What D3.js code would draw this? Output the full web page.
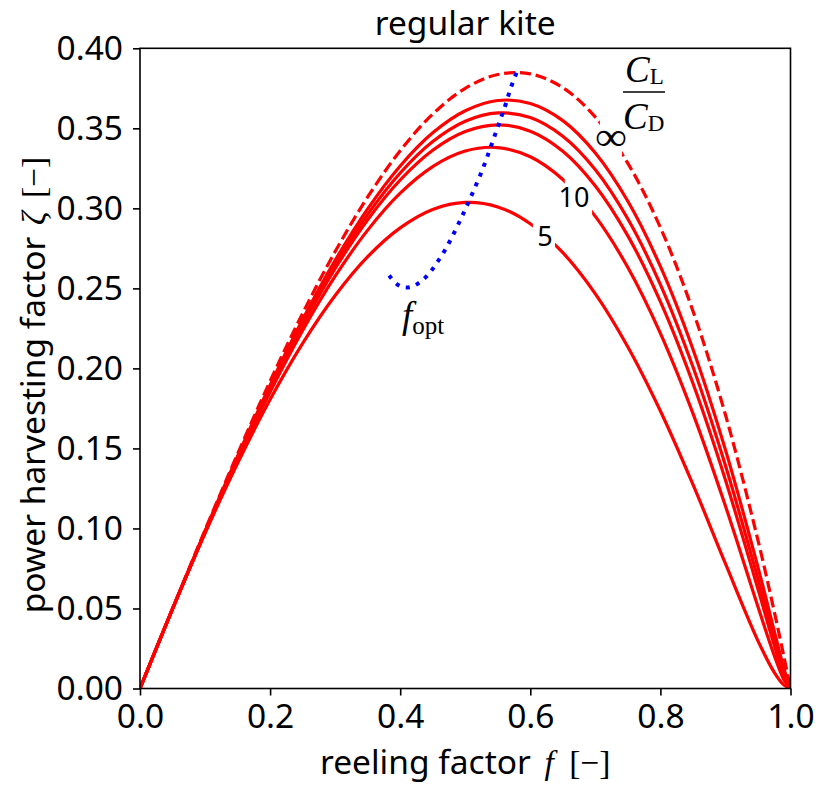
<!DOCTYPE html>
<html><head><meta charset="utf-8">
<script src="https://cdn.jsdelivr.net/npm/d3@7"></script>
<style>body{margin:0;background:#fff}</style>
</head><body><svg id="c" width="816" height="787"></svg>
<script>
// ---- data ----
const fGrid   = [0,0.05,0.1,0.15,0.2,0.25,0.3,0.35,0.4,0.45,0.5,0.55,0.6,0.65,0.7,0.75,0.8,0.85,0.9,0.95,0.975,0.99,1.0];
const zeta5   = [0,0.0499,0.0970,0.1407,0.1805,0.2156,0.2455,0.2698,0.2878,0.2993,0.3037,0.3009,0.2904,0.2723,0.2466,0.2134,0.1734,0.1275,0.0780,0.0298,0.0101,0.0021,0];
const zeta10  = [0,0.0496,0.0975,0.1430,0.1852,0.2237,0.2576,0.2864,0.3095,0.3261,0.3358,0.3380,0.3322,0.3180,0.2950,0.2630,0.2219,0.1719,0.1140,0.0511,0.0207,0.0054,0];
const zeta15  = [0,0.0497,0.0979,0.1440,0.1873,0.2269,0.2624,0.2929,0.3177,0.3363,0.3480,0.3522,0.3482,0.3357,0.3140,0.2828,0.2417,0.1907,0.1303,0.0621,0.0271,0.0080,0];
const zeta20  = [0,0.0497,0.0981,0.1446,0.1884,0.2287,0.2649,0.2962,0.3221,0.3417,0.3544,0.3596,0.3567,0.3450,0.3241,0.2933,0.2524,0.2010,0.1393,0.0685,0.0312,0.0099,0];
const zeta30  = [0,0.0497,0.0984,0.1452,0.1895,0.2305,0.2675,0.2997,0.3265,0.3472,0.3610,0.3674,0.3655,0.3548,0.3346,0.3044,0.2637,0.2120,0.1491,0.0757,0.0360,0.0124,0];
const zetaInf = [0,0.0499,0.0990,0.1466,0.1920,0.2344,0.2730,0.3071,0.3360,0.3589,0.3750,0.3836,0.3840,0.3754,0.3570,0.3281,0.2880,0.2359,0.1710,0.0926,0.0481,0.0197,0];

const fOpt    = [0.383,0.392,0.404,0.419,0.431,0.442,0.451,0.459,0.467,0.474,0.481,0.494,0.500,0.506,0.512,0.5175,0.5236,0.5287,0.5338,0.5384,0.5436,0.5482,0.5533,0.5579,0.5630,0.5676,0.5728,0.5794];
const zetaOpt = [0.258,0.2533,0.2501,0.2507,0.2539,0.2580,0.2626,0.2676,0.2724,0.2777,0.2830,0.2941,0.2993,0.3047,0.3103,0.3155,0.3211,0.3266,0.3320,0.3376,0.3434,0.3489,0.3545,0.3601,0.3658,0.3726,0.3786,0.3853];

const xTicks = [0,0.2,0.4,0.6,0.8,1.0];
const yTicks = [0,0.05,0.10,0.15,0.20,0.25,0.30,0.35,0.40];
const curveLabels = ["5","10"];

// ---- drawing ----
const svg = d3.select("#c");
svg.append("rect").attr("width",816).attr("height",787).attr("fill","#fff");
const x = d3.scaleLinear().domain([0,1]).range([140,790.5]);
const y = d3.scaleLinear().domain([0,0.4]).range([688.5,48.3]);
const SANS = "'Noto Sans','Open Sans',sans-serif";
const SERIF = "'Liberation Serif','DejaVu Serif',serif";
const FS = "33.5px";

const defs = svg.append("defs");
defs.append("clipPath").attr("id","plotclip").append("rect")
  .attr("x",x(0)).attr("y",y(0.4)).attr("width",x(1)-x(0)).attr("height",y(0)-y(0.4));

function gapMask(id, f0, f1){
  const m = defs.append("mask").attr("id",id).attr("maskUnits","userSpaceOnUse")
    .attr("x",0).attr("y",0).attr("width",816).attr("height",787);
  m.append("rect").attr("x",0).attr("y",0).attr("width",816).attr("height",787).attr("fill","#fff");
  m.append("rect").attr("x",x(f0)).attr("y",0).attr("width",x(f1)-x(f0)).attr("height",787).attr("fill","#000");
}
gapMask("gap5",0.604,0.638);
gapMask("gap10",0.653,0.695);
gapMask("gapInf",0.707,0.741);

const series = [
  {v:zeta5, mask:"gap5"},
  {v:zeta10, mask:"gap10"},
  {v:zeta15},
  {v:zeta20},
  {v:zeta30},
  {v:zetaInf, mask:"gapInf", dash:"11.1,4.8"}
];
const line = d3.line().x((d,i)=>x(fGrid[i])).y(d=>y(d)).curve(d3.curveCatmullRom.alpha(0.5));
const plot = svg.append("g").attr("clip-path","url(#plotclip)");
series.forEach(s=>{
  const p = plot.append("path").attr("d",line(s.v)).attr("fill","none")
    .attr("stroke","#ff0000").attr("stroke-width",3.2);
  if(s.mask) p.attr("mask",`url(#${s.mask})`);
  if(s.dash) p.attr("stroke-dasharray",s.dash);
});
const optLine = d3.line().x((d,i)=>x(fOpt[i])).y(d=>y(d)).curve(d3.curveBasis);
plot.append("path").attr("d",optLine(zetaOpt)).attr("fill","none")
  .attr("stroke","#0000ff").attr("stroke-width",4).attr("stroke-dasharray","4,6.6");

// axes
const xAxis = d3.axisBottom(x).tickValues(xTicks).tickFormat(d3.format(".1f"))
  .tickSizeInner(7).tickSizeOuter(0).tickPadding(9);
const yAxis = d3.axisLeft(y).tickValues(yTicks).tickFormat(d3.format(".2f"))
  .tickSizeInner(7).tickSizeOuter(0).tickPadding(10);
const gx = svg.append("g").attr("transform",`translate(0,${y(0)})`).call(xAxis);
const gy = svg.append("g").attr("transform",`translate(${x(0)},0)`).call(yAxis);
[gx,gy].forEach(g=>{
  g.select(".domain").remove();
  g.selectAll(".tick line").attr("stroke","#000").attr("stroke-width",1.6);
  g.selectAll(".tick text").attr("fill","#000").style("font-family",SANS).style("font-size",FS);
});

// frame
svg.append("rect").attr("x",x(0)).attr("y",y(0.4)).attr("width",x(1)-x(0)).attr("height",y(0)-y(0.4))
  .attr("fill","none").attr("stroke","#000").attr("stroke-width",1.6);

// title
svg.append("text").attr("x",(x(0)+x(1))/2).attr("y",35).attr("text-anchor","middle")
  .style("font-family",SANS).style("font-size",FS).text("regular kite");

// x label
const xl = svg.append("text").attr("x",(x(0)+x(1))/2).attr("y",774).attr("text-anchor","middle")
  .style("font-size",FS);
xl.append("tspan").style("font-family",SANS).text("reeling factor ");
xl.append("tspan").attr("dx",5).style("font-family",SERIF).style("font-style","italic").text("f");
xl.append("tspan").attr("dx",7).style("font-family",SERIF).text(" [\u2212]");

// y label
const yl = svg.append("text").attr("transform",`translate(45,385) rotate(-90)`)
  .attr("text-anchor","middle").style("font-size",FS);
yl.append("tspan").style("font-family",SANS).text("power harvesting factor ");
yl.append("tspan").attr("dx",3).style("font-family",SERIF).style("font-style","italic").text("\u03B6");
yl.append("tspan").attr("dx",5).style("font-family",SERIF).text(" [\u2212]");

// curve labels
svg.append("text").attr("x",x(0.6226)).attr("y",y(0.2828)).attr("text-anchor","middle")
  .attr("dominant-baseline","central").style("font-family",SANS).style("font-size","27px").text(curveLabels[0]);
svg.append("text").attr("x",x(0.6672)).attr("y",y(0.3072)).attr("text-anchor","middle")
  .attr("dominant-baseline","central").style("font-family",SANS).style("font-size","27px").text(curveLabels[1]);
svg.append("text").attr("x",x(0.724)-16).attr("y",y(0.3422)+9).attr("textLength",32).attr("lengthAdjust","spacingAndGlyphs")
  .style("font-family",SERIF).style("font-size","40px").text("\u221E");

// C_L / C_D
const fr = svg.append("g");
const t1 = fr.append("text").attr("x",625).attr("y",82).style("font-family",SERIF).style("font-size","37px");
t1.append("tspan").style("font-style","italic").text("C");
t1.append("tspan").attr("dy",2).style("font-size","23px").text("L");
fr.append("line").attr("x1",623).attr("x2",665).attr("y1",92).attr("y2",92).attr("stroke","#000").attr("stroke-width",1.5);
const t2 = fr.append("text").attr("x",623).attr("y",129).style("font-family",SERIF).style("font-size","37px");
t2.append("tspan").style("font-style","italic").text("C");
t2.append("tspan").attr("dy",2).style("font-size","23px").text("D");

// f_opt
const fo = svg.append("text").attr("x",402).attr("y",328).style("font-family",SERIF).style("font-size","37px");
fo.append("tspan").style("font-style","italic").text("f");
fo.append("tspan").attr("dy",6).style("font-size","25px").text("opt");
</script></body></html>
